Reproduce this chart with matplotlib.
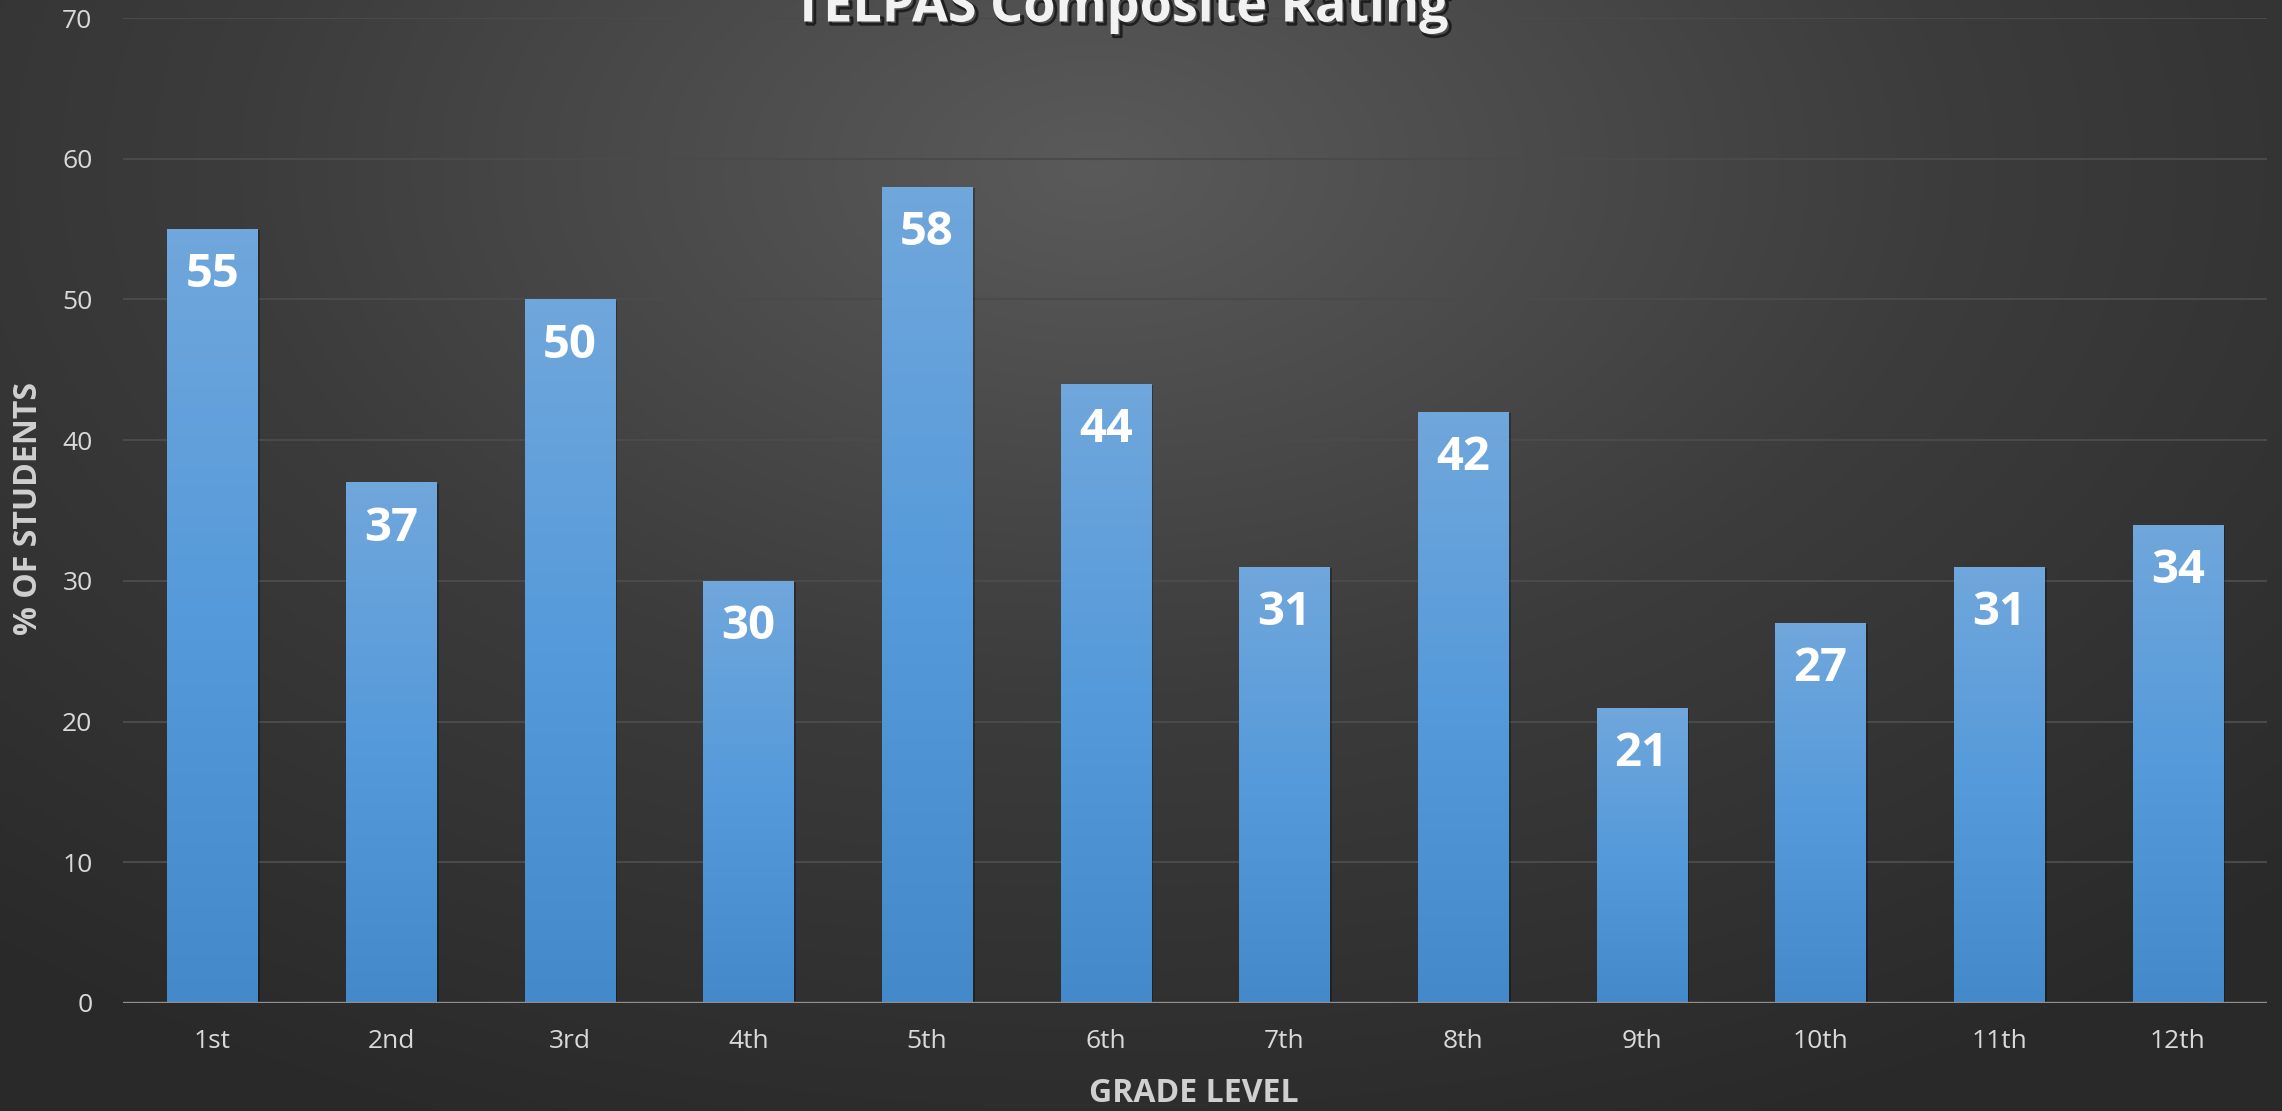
import numpy as np
import matplotlib
matplotlib.use("Agg")
import matplotlib.pyplot as plt
from matplotlib import patheffects as pe
from matplotlib.colors import LinearSegmentedColormap

grades = ["1st", "2nd", "3rd", "4th", "5th", "6th", "7th", "8th", "9th", "10th", "11th", "12th"]
percent = [55, 37, 50, 30, 58, 44, 31, 42, 21, 27, 31, 34]
yticks = [0, 10, 20, 30, 40, 50, 60, 70]
title = "TELPAS Composite Rating"
xlabel = "GRADE LEVEL"
ylabel = "% OF STUDENTS"

W, H = 2282, 1111
DPI = 100
plt.rcParams['font.family'] = ['Open Sans', 'DejaVu Sans']

fig = plt.figure(figsize=(W / DPI, H / DPI), dpi=DPI)

# background radial gradient
bg = fig.add_axes([0, 0, 1, 1], zorder=-10)
yy, xx = np.mgrid[0:1:400j, 0:1:800j]
r = np.sqrt(((xx - 0.48) / 0.75) ** 2 + ((yy - 0.15) / 0.95) ** 2)
r = np.clip(r, 0, 1)
bgcmap = LinearSegmentedColormap.from_list("bg", ["#5a5a5a", "#3c3c3c", "#292929"])
bg.imshow(r, cmap=bgcmap, aspect='auto', extent=[0, 1, 1, 0], vmin=0, vmax=1)
bg.set_axis_off()

ax = fig.add_axes([123 / W, 1 - 1003 / H, (2267 - 123) / W, (1003 - 18) / H])
ax.set_facecolor('none')

x = np.arange(len(grades))
bw = 0.504
bars = ax.bar(x, percent, width=bw, color='#5b9bd5', zorder=3)
barcmap = LinearSegmentedColormap.from_list("bar", ["#4489ca", "#559ada", "#70a7dc"])
grad = np.linspace(0, 1, 256).reshape(-1, 1)
for b in bars:
    b.set_path_effects([pe.SimplePatchShadow(offset=(2, -1), shadow_rgbFace='black', alpha=0.3), pe.Normal()])
    im = ax.imshow(grad, cmap=barcmap, origin='lower', aspect='auto',
                   extent=[b.get_x(), b.get_x() + b.get_width(), 0, b.get_height()], zorder=4)
    im.set_clip_path(b)

for xi, v in zip(x, percent):
    ax.annotate(str(v), xy=(xi, v), xytext=(0, -16), textcoords='offset points',
                ha='center', va='top', color='white', fontsize=34, fontweight='bold', zorder=6)

ax.set_xlim(-0.5, len(grades) - 0.5)
ax.set_ylim(0, 70)
ax.set_yticks(yticks)
ax.set_xticks(x)
ax.set_xticklabels(grades)
for s in ax.spines.values():
    s.set_visible(False)
ax.grid(axis='y', color='#4a4a4a', linewidth=1.5, zorder=0)
ax.set_axisbelow(True)
ax.axhline(0, color='#8f8f8f', linewidth=2.4, zorder=5)
ax.tick_params(axis='both', length=0, labelsize=19, labelcolor='#d9d9d9')
ax.tick_params(axis='y', pad=22)
ax.tick_params(axis='x', pad=19)

fig.text(1121 / W, 1 - 8 / H, title, ha='center', va='center', fontsize=37.5,
         fontweight='bold', color='#f2f2f2',
         path_effects=[pe.SimpleLineShadow(offset=(2, -2), alpha=0.6, linewidth=2), pe.Normal()])
fig.text(1194 / W, 1 - 1094 / H, xlabel, ha='center', va='center', fontsize=23,
         fontweight='bold', color='#d0d0d0')
fig.text(29 / W, 1 - 509 / H, ylabel, ha='center', va='center', rotation=90,
         fontsize=23, fontweight='bold', color='#d0d0d0')

fig.savefig("out.png", dpi=DPI)
